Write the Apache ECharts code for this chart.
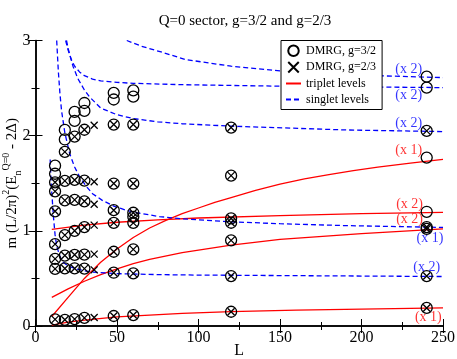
<!DOCTYPE html>
<html>
<head>
<meta charset="utf-8">
<script src="https://cdn.jsdelivr.net/npm/echarts@6/dist/echarts.min.js"></script>
<style>
  html, body { margin: 0; padding: 0; background: #fff; }
  #main { width: 457px; height: 359px; }
</style>
</head>
<body>
<div id="main"></div>
<script>
// chain lengths used in the DMRG runs
var sizes = [12, 18, 24, 30, 36, 48, 60, 120, 240];

// DMRG levels, g=3/2 (circles), one list per size
var circleLevels = [
  [1.685, 1.60, 1.51, 1.415, 1.205, 0.86, 0.705, 0.60, 0.07],
  [2.06, 1.96, 1.83, 1.525, 1.32, 0.955, 0.74, 0.605, 0.065],
  [2.25, 2.155, 1.99, 1.535, 1.325, 1.0, 0.748, 0.605, 0.072],
  [2.343, 2.26, 2.062, 1.528, 1.31, 1.04, 0.75, 0.603, 0.085],
  [],
  [2.45, 2.38, 2.117, 1.497, 1.217, 1.084, 0.78, 0.56, 0.105],
  [2.476, 2.41, 2.117, 1.497, 1.19, 1.147, 1.084, 0.805, 0.553, 0.115],
  [2.085, 1.58, 1.13, 1.085, 0.90, 0.525, 0.15],
  [2.62, 2.505, 2.05, 1.77, 1.20, 1.04, 1.02, 0.525, 0.19]
];

// DMRG levels, g=2/3 (crosses)
var crossLevels = [
  [1.51, 1.415, 1.205, 0.86, 0.705, 0.60, 0.07],
  [1.83, 1.525, 1.32, 0.955, 0.74, 0.605, 0.065],
  [1.99, 1.535, 1.325, 1.0, 0.748, 0.605, 0.072],
  [2.062, 1.528, 1.31, 1.04, 0.75, 0.603, 0.085],
  [2.11, 1.515, 1.28, 1.06, 0.755, 0.59, 0.09],
  [2.117, 1.497, 1.217, 1.084, 0.78, 0.56, 0.105],
  [2.117, 1.497, 1.19, 1.147, 1.084, 0.805, 0.553, 0.115],
  [2.085, 1.58, 1.13, 1.085, 0.90, 0.525, 0.15],
  [2.05, 1.04, 1.02, 0.525, 0.19]
];

// triplet levels (red), [L, value]
var triplet1 = [[10, 0.01], [20, 0.04], [30, 0.062], [50, 0.095], [70, 0.115], [90, 0.132], [120, 0.15], [160, 0.166], [200, 0.178], [250, 0.19]];
var triplet2 = [[10, 0.30], [20, 0.39], [30, 0.47], [40, 0.54], [50, 0.60], [60, 0.655], [70, 0.70], [90, 0.77], [120, 0.85], [150, 0.91], [200, 0.97], [250, 1.02]];
var triplet3 = [[10, 0.10], [20, 0.30], [30, 0.50], [40, 0.67], [50, 0.81], [60, 0.93], [70, 1.03], [80, 1.11], [90, 1.18], [100, 1.24], [110, 1.30], [120, 1.35], [135, 1.425], [150, 1.49], [165, 1.545], [180, 1.59], [195, 1.633], [210, 1.67], [230, 1.712], [250, 1.75]];
var triplet4 = [[10, 1.015], [30, 1.06], [50, 1.09], [75, 1.115], [100, 1.135], [150, 1.16], [200, 1.18], [250, 1.193]];

// singlet levels (blue dashed)
var singlet1 = [[56, 3.0], [65, 2.94], [77, 2.88], [92, 2.80], [120, 2.73], [150, 2.68], [200, 2.635], [250, 2.61]];
var singlet2 = [[18.5, 3.0], [20, 2.9], [22, 2.8], [24, 2.73], [27, 2.67], [30, 2.63], [35, 2.595], [40, 2.575], [50, 2.56], [60, 2.55], [92, 2.535], [150, 2.52], [250, 2.505]];
var singlet3 = [[19, 3.0], [20, 2.92], [21, 2.85], [23, 2.73], [26, 2.6], [30, 2.48], [33, 2.41], [40, 2.29], [50, 2.22], [60, 2.18], [75, 2.145], [90, 2.125], [120, 2.10], [190, 2.06], [250, 2.043]];
var singlet4 = [[13, 3.0], [14, 2.68], [15, 2.44], [16, 2.26], [18, 2.03], [21, 1.81], [24, 1.67], [27, 1.57], [31, 1.47], [35, 1.39], [41, 1.32], [48, 1.26], [55, 1.22], [62, 1.19], [76, 1.15], [90, 1.127], [120, 1.095], [150, 1.075], [190, 1.055], [250, 1.036]];
var singlet5 = [[9, 1.75], [9.5, 1.55], [10, 1.4], [11, 1.15], [12, 0.96], [13, 0.84], [15, 0.73], [17, 0.67], [20, 0.63], [25, 0.6], [30, 0.58], [35, 0.567], [50, 0.55], [75, 0.54], [100, 0.535], [150, 0.53], [200, 0.525], [250, 0.52]];

// degeneracy notes next to the curves: [L, value, text, kind]
var notes = [
  [229, 2.70, '(x 2)', 's'],
  [229, 2.42, '(x 2)', 's'],
  [229, 2.13, '(x 2)', 's'],
  [229, 1.85, '(x 1)', 't'],
  [229.5, 1.28, '(x 2)', 't'],
  [229.5, 1.12, '(x 2)', 't'],
  [242, 0.92, '(x 1)', 's'],
  [240, 0.62, '(x 2)', 's'],
  [241, 0.09, '(x 1)', 't']
];

var RED = '#ff0000';
var BLUE = '#0000ff';
var FONT = '"Liberation Serif", "DejaVu Serif", serif';

function points(levels) {
  var out = [];
  levels.forEach(function (list, i) {
    list.forEach(function (v) { out.push([sizes[i], v]); });
  });
  return out;
}

function curve(name, data, color, dashed) {
  return {
    name: name,
    type: 'line',
    data: data,
    smooth: false,
    symbol: 'none',
    z: 1,
    lineStyle: { color: color, width: 1.3, type: dashed ? [5, 3] : 'solid' },
    itemStyle: { color: color }
  };
}

var tickStyle = {
  axisLine: { lineStyle: { color: '#000', width: 1.5 } },
  axisTick: { inside: true, length: 7, lineStyle: { color: '#000' } },
  minorTick: { show: true, splitNumber: 2, length: 4, lineStyle: { color: '#000' } },
  splitLine: { show: false }
};

var hidden = { color: 'rgba(0,0,0,0)', borderColor: 'rgba(0,0,0,0)', borderWidth: 0 };

var myChart = echarts.init(document.getElementById('main'));

var option = {
  animation: false,
  title: {
    text: 'Q=0 sector, g=3/2 and g=2/3',
    left: 240,
    textAlign: 'center',
    top: 9,
    textStyle: { fontFamily: FONT, fontWeight: 'normal', fontSize: 15, color: '#000' }
  },
  legend: {
    orient: 'vertical',
    left: 281,
    top: 40.5,
    data: [
      'DMRG, g=3/2',
      'DMRG, g=2/3',
      { name: 'triplet levels', itemStyle: hidden },
      { name: 'singlet levels', itemStyle: hidden }
    ],
    backgroundColor: '#fff',
    borderColor: '#000',
    borderWidth: 1,
    borderRadius: 0,
    padding: [4, 6, 4, 4],
    itemGap: 4,
    itemWidth: 15,
    itemHeight: 10.5,
    textStyle: { fontFamily: FONT, fontSize: 12, color: '#000' }
  },
  grid: { left: 35.5, right: 14, top: 40.5, bottom: 33, outerBoundsMode: 'none', containLabel: false },
  xAxis: [Object.assign({
    type: 'value',
    min: 0, max: 250, interval: 50,
    name: 'L',
    nameLocation: 'middle',
    nameGap: 17,
    nameMoveOverlap: false,
    nameTextStyle: { fontFamily: FONT, fontSize: 16, color: '#000' },
    axisLabel: { fontFamily: FONT, fontSize: 16, color: '#000', margin: 4 }
  }, tickStyle), Object.assign({
    type: 'value',
    position: 'top',
    min: 0, max: 250, interval: 50,
    axisLabel: { show: false }
  }, tickStyle)],
  yAxis: [Object.assign({
    type: 'value',
    min: 0, max: 3, interval: 1,
    name: '{t|m (L/2π)}{sup|2}{t|(E}{sub|n}{sup|Q=0}{t| - 2Δ)}',
    nameLocation: 'middle',
    nameGap: 12,
    nameMoveOverlap: false,
    nameTextStyle: {
      fontFamily: FONT, fontSize: 15, color: '#000',
      rich: {
        t: { fontFamily: FONT, fontSize: 15, color: '#000', lineHeight: 22, verticalAlign: 'middle' },
        sup: { fontFamily: FONT, fontSize: 10, color: '#000', lineHeight: 22, verticalAlign: 'top' },
        sub: { fontFamily: FONT, fontSize: 10, color: '#000', lineHeight: 22, verticalAlign: 'bottom' }
      }
    },
    axisLabel: { fontFamily: FONT, fontSize: 16, color: '#000', margin: 5 }
  }, tickStyle), Object.assign({
    type: 'value',
    position: 'right',
    min: 0, max: 3, interval: 1,
    axisLabel: { show: false }
  }, tickStyle)],
  series: [
    curve('triplet levels', triplet1, RED, false),
    curve('triplet levels', triplet2, RED, false),
    curve('triplet levels', triplet3, RED, false),
    curve('triplet levels', triplet4, RED, false),
    curve('singlet levels', singlet1, BLUE, true),
    curve('singlet levels', singlet2, BLUE, true),
    curve('singlet levels', singlet3, BLUE, true),
    curve('singlet levels', singlet4, BLUE, true),
    curve('singlet levels', singlet5, BLUE, true),
    {
      name: 'DMRG, g=3/2',
      type: 'scatter',
      data: points(circleLevels),
      symbol: 'circle',
      symbolSize: 11,
      z: 3,
      itemStyle: { color: 'rgba(0,0,0,0)', borderColor: '#000', borderWidth: 1.3, opacity: 1 }
    },
    {
      name: 'DMRG, g=2/3',
      type: 'scatter',
      data: points(crossLevels),
      symbol: 'path://M0,0L10,10M10,0L0,10',
      symbolSize: 7,
      z: 3,
      itemStyle: { color: 'rgba(0,0,0,0)', borderColor: '#000', borderWidth: 1.3, opacity: 1 }
    },
    {
      name: 'notes',
      type: 'scatter',
      symbolSize: 0,
      silent: true,
      z: 4,
      data: notes.map(function (n) {
        return {
          value: [n[0], n[1]],
          label: {
            show: true,
            position: 'inside',
            formatter: n[2],
            fontFamily: FONT,
            fontSize: 14,
            color: n[3] === 's' ? BLUE : RED
          }
        };
      })
    }
  ]
};

myChart.setOption(option);
</script>
</body>
</html>
